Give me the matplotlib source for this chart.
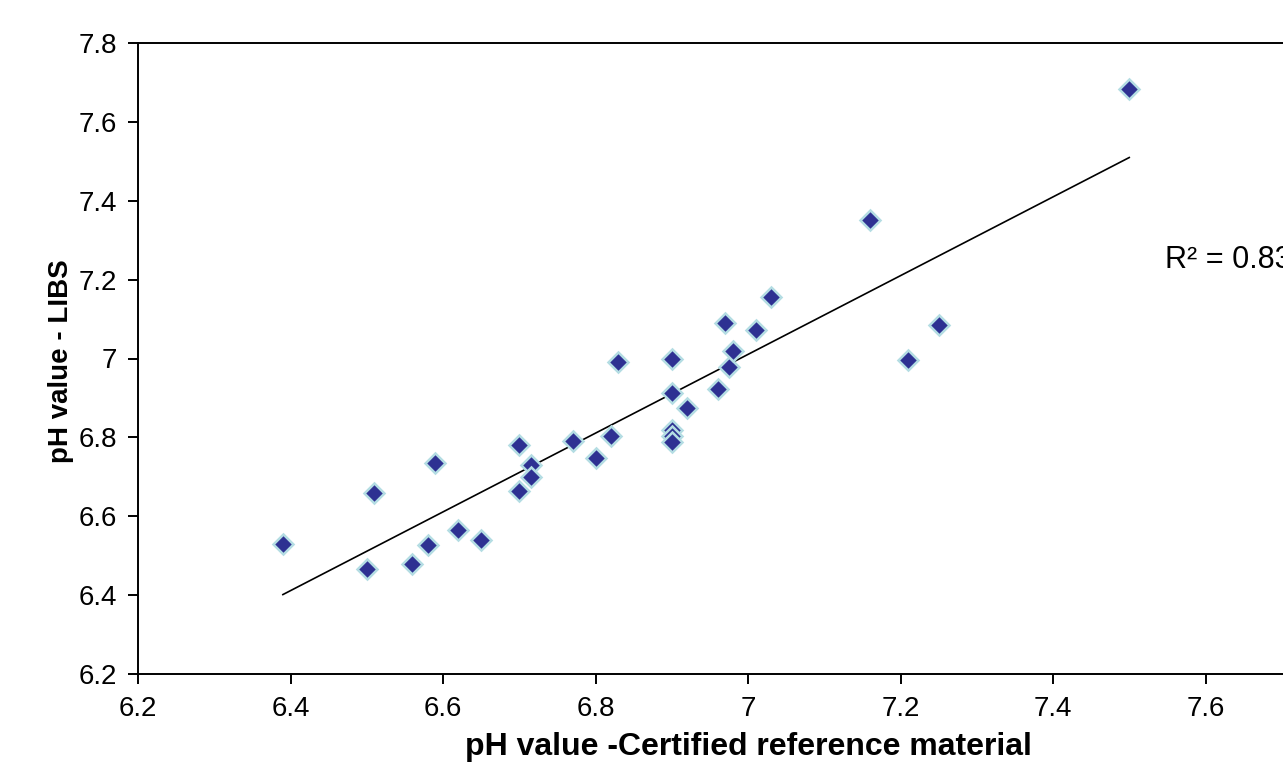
import numpy as np
import matplotlib
matplotlib.use("Agg")
import matplotlib.pyplot as plt

plt.rcParams['font.family'] = ['Liberation Sans', 'DejaVu Sans']

# Data: certified reference pH vs LIBS-predicted pH
ph_crm = [6.39, 6.50, 6.51, 6.56, 6.58, 6.59, 6.62, 6.65, 6.70, 6.70,
          6.715, 6.715, 6.77, 6.80, 6.82, 6.83, 6.90, 6.90, 6.90, 6.90,
          6.90, 6.92, 6.96, 6.97, 6.975, 6.98, 7.01, 7.03, 7.16, 7.21,
          7.25, 7.50]
ph_libs = [6.53, 6.465, 6.66, 6.48, 6.527, 6.735, 6.565, 6.54, 6.78, 6.665,
           6.73, 6.70, 6.79, 6.748, 6.803, 6.99, 7.00, 6.912, 6.818, 6.803,
           6.788, 6.874, 6.922, 7.09, 6.978, 7.02, 7.072, 7.157, 7.35, 6.996,
           7.085, 7.683]
x_ticks = [6.2, 6.4, 6.6, 6.8, 7.0, 7.2, 7.4, 7.6, 7.8]
x_ticklabels = ['6.2', '6.4', '6.6', '6.8', '7', '7.2', '7.4', '7.6', '7.8']
y_ticks = [6.2, 6.4, 6.6, 6.8, 7.0, 7.2, 7.4, 7.6, 7.8]
y_ticklabels = ['6.2', '6.4', '6.6', '6.8', '7', '7.2', '7.4', '7.6', '7.8']
r2_label = 'R² = 0.8306'

fig = plt.figure(figsize=(12.83, 7.66), dpi=100)
ax = fig.add_axes([138/1283, 92/766, 1220/1283, 631/766])

ax.plot(ph_crm, ph_libs, linestyle='none', marker='D', markersize=10.5,
        markerfacecolor='#2E3192', markeredgecolor='#B4DDE3', markeredgewidth=1.8,
        zorder=3)

# linear trendline
xa = np.array(ph_crm)
ya = np.array(ph_libs)
slope, intercept = np.polyfit(xa, ya, 1)
xl = np.array([xa.min(), xa.max()])
ax.plot(xl, slope * xl + intercept, color='black', linewidth=1.2, zorder=2)

ax.text(7.547, 7.25, r2_label, fontsize=22, ha='left', va='center',
        clip_on=False)

ax.set_xlim(6.2, 7.8)
ax.set_ylim(6.2, 7.8)
ax.set_xticks(x_ticks)
ax.set_xticklabels(x_ticklabels)
ax.set_yticks(y_ticks)
ax.set_yticklabels(y_ticklabels)
ax.tick_params(direction='out', length=7, width=1.4, labelsize=20)
ax.tick_params(axis='x', pad=9)
ax.tick_params(axis='y', pad=8)
for s in ax.spines.values():
    s.set_linewidth(1.4)

ax.set_xlabel('pH value -Certified reference material', fontsize=23,
              fontweight='bold')
ax.xaxis.set_label_coords((748 - 138) / 1220, -(747 - 674) / 631)
ax.set_ylabel('pH value - LIBS', fontsize=20, fontweight='bold')
ax.yaxis.set_label_coords(-(138 - 61) / 1220, (674 - 361) / 631)
ax.xaxis.label.set_va('center')
ax.yaxis.label.set_va('center')

fig.savefig('out.png', dpi=100)
